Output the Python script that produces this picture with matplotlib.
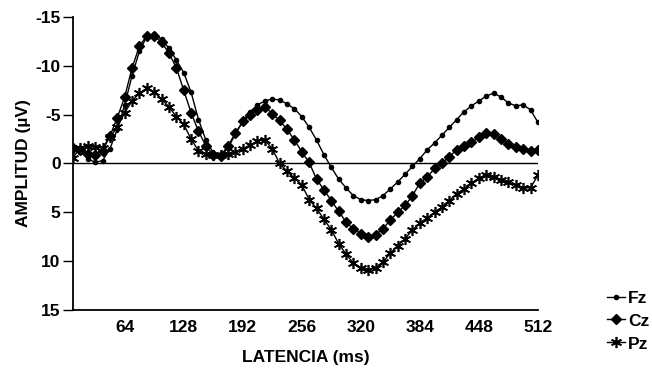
import numpy as np
import matplotlib
matplotlib.use("Agg")
import matplotlib.pyplot as plt

plt.rcParams['font.family'] = ['Liberation Sans', 'DejaVu Sans']
plt.rcParams['font.weight'] = 'bold'
plt.rcParams['axes.unicode_minus'] = False

# latency samples every 8 ms
latency = list(range(8, 513, 8))

fz = [-1.6, -1.2, -0.5, -0.1, -0.3, -1.5, -3.5, -6.0, -9.0, -11.5,
      -13.0, -13.3, -12.7, -11.8, -10.6, -9.3, -7.3, -4.5, -2.4, -1.1,
      -0.8, -1.6, -3.0, -4.3, -5.3, -6.0, -6.4, -6.6, -6.5, -6.1,
      -5.6, -4.8, -3.7, -2.4, -0.9, 0.4, 1.6, 2.5, 3.3, 3.7,
      3.8, 3.7, 3.3, 2.6, 1.9, 1.1, 0.3, -0.5, -1.4, -2.1,
      -2.9, -3.7, -4.5, -5.3, -5.9, -6.4, -6.9, -7.2, -6.8, -6.2,
      -5.9, -6.0, -5.5, -4.2]

cz = [-1.6, -1.4, -1.0, -0.9, -1.3, -2.8, -4.7, -6.8, -9.8, -12.0,
      -13.1, -13.1, -12.4, -11.3, -9.8, -7.5, -5.2, -3.3, -1.8, -0.9,
      -0.8, -1.8, -3.1, -4.3, -5.0, -5.5, -5.8, -5.1, -4.4, -3.5,
      -2.4, -1.2, -0.1, 1.6, 2.7, 3.8, 4.9, 6.0, 6.7, 7.2,
      7.5, 7.3, 6.7, 5.8, 5.0, 4.3, 3.3, 2.0, 1.4, 0.5,
      0.0, -0.7, -1.4, -1.8, -2.2, -2.7, -3.1, -3.0, -2.5, -2.0,
      -1.7, -1.5, -1.3, -1.4]

pz = [-0.6, -1.6, -1.8, -1.7, -1.6, -2.7, -3.7, -5.2, -6.4, -7.2,
      -7.7, -7.3, -6.6, -5.8, -4.8, -4.0, -2.5, -1.3, -1.0, -0.9,
      -0.9, -1.0, -1.2, -1.5, -1.9, -2.3, -2.4, -1.5, 0.0, 0.8,
      1.5, 2.2, 3.7, 4.6, 5.7, 6.8, 8.2, 9.3, 10.2, 10.7,
      10.9, 10.7, 10.1, 9.2, 8.4, 7.7, 6.8, 6.1, 5.6, 5.0,
      4.5, 3.8, 3.1, 2.6, 2.0, 1.5, 1.2, 1.4, 1.7, 1.9,
      2.2, 2.5, 2.5, 1.2]

xticks = [64, 128, 192, 256, 320, 384, 448, 512]
yticks = [-15, -10, -5, 0, 5, 10, 15]

fig = plt.figure(figsize=(6.52, 3.69), dpi=100)
ax = fig.add_axes([0.112, 0.160, 0.713, 0.794])

l_fz, = ax.plot(latency, fz, color='black', lw=1.0, marker='o', ms=3)
l_cz, = ax.plot(latency, cz, color='black', lw=1.0, marker='D', ms=5)
l_pz, = ax.plot(latency, pz, color='black', lw=1.0, marker=(6, 2, 0), ms=8, mew=1.2)
ax.axhline(0, color='black', lw=1.0)

ax.set_xlim(8, 512)
ax.set_ylim(15, -15)
ax.set_xticks(xticks)
ax.set_yticks(yticks)
ax.tick_params(axis='x', length=0, pad=7, labelsize=12.5)
ax.tick_params(axis='y', length=7, width=1, pad=2, labelsize=12.5)
for s in ['top', 'right']:
    ax.spines[s].set_visible(False)
for s in ['left', 'bottom']:
    ax.spines[s].set_linewidth(1.3)

ax.set_xlabel('LATENCIA (ms)', fontsize=12.5, fontweight='bold', labelpad=11)
ax.set_ylabel('AMPLITUD (µV)', fontsize=12.5, fontweight='bold', labelpad=3)

fig.legend([l_fz, l_cz, l_pz], ['Fz', 'Cz', 'Pz'], loc='lower right',
           bbox_to_anchor=(1.02, 0.005), frameon=False, fontsize=12.5,
           handlelength=1.0, handletextpad=0.2, labelspacing=0.45,
           markerscale=1.0)

fig.savefig('out.png', dpi=100)
